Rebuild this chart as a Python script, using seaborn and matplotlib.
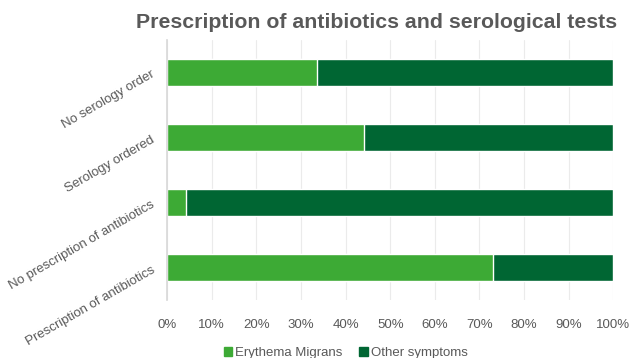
import matplotlib
matplotlib.use("Agg")
import matplotlib.pyplot as plt
import seaborn as sns
import pandas as pd
from matplotlib.ticker import PercentFormatter
from matplotlib.patches import Patch

categories = ["No serology order", "Serology ordered",
              "No prescription of antibiotics", "Prescription of antibiotics"]
erythema = [33.6, 44.0, 4.3, 73.0]
other = [66.4, 56.0, 95.7, 27.0]

c_em = "#3DAA35"
c_other = "#006633"
grey = "#595959"

sns.set_theme(style="white")
plt.rcParams["font.family"] = ["Liberation Sans", "DejaVu Sans"]

df = pd.DataFrame({"cat": categories, "em": erythema, "other": other})
df["total"] = df["em"] + df["other"]

fig, ax = plt.subplots(figsize=(6.31, 3.58), dpi=100)
sns.barplot(data=df, y="cat", x="total", color=c_other, width=0.41,
            orient="h", ax=ax, saturation=1)
sns.barplot(data=df, y="cat", x="em", color=c_em, width=0.41,
            orient="h", ax=ax, saturation=1)

ax.set_xlim(0, 100)
ax.set_ylim(3.5, -0.5)
ax.xaxis.set_major_locator(plt.MultipleLocator(10))
ax.xaxis.set_major_formatter(PercentFormatter(decimals=0))
ax.grid(axis="x", color="#EBEBEB", linewidth=0.8)
ax.set_axisbelow(True)
for s in ["top", "right", "bottom"]:
    ax.spines[s].set_visible(False)
ax.spines["left"].set_color("#D9D9D9")
ax.set_xlabel("")
ax.set_ylabel("")
ax.tick_params(axis="both", length=0, colors=grey, labelsize=9.5)
ax.tick_params(axis="x", pad=14)
ax.tick_params(axis="y", pad=10)
plt.setp(ax.get_yticklabels(), rotation=30, ha="right", rotation_mode="anchor")

ax.set_title("Prescription of antibiotics and serological tests",
             fontsize=15.3, fontweight="bold", color=grey, pad=9, loc="center", x=0.47)

handles = [Patch(color=c_em, label="Erythema Migrans"),
           Patch(color=c_other, label="Other symptoms")]
ax.legend(handles=handles, loc="upper center", bbox_to_anchor=(0.4, -0.17),
          ncol=2, frameon=False, fontsize=9.5, handlelength=0.65, handleheight=0.65,
          handletextpad=0.2, columnspacing=1.3, labelcolor=grey,
          borderaxespad=0, borderpad=0.2)

fig.subplots_adjust(left=0.265, right=0.972, top=0.888, bottom=0.162)
fig.savefig("out.png", dpi=100)
